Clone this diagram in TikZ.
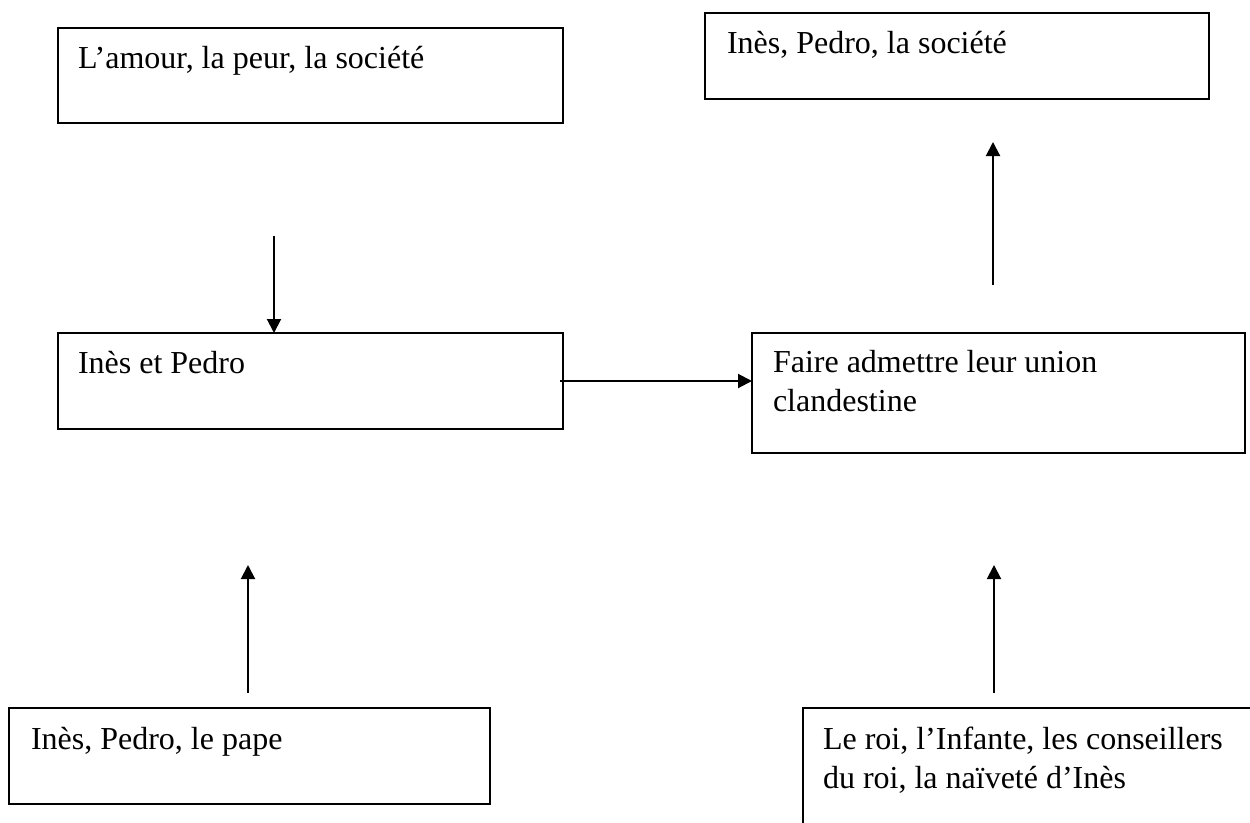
\documentclass[tikz,border=0pt]{standalone}
\usepackage{fontspec}
\setmainfont{Liberation Serif}
\usetikzlibrary{arrows.meta}
\begin{document}
\begin{tikzpicture}[x=1pt,y=-1pt,
  box/.style={draw=black, line width=2.2pt, rectangle, inner sep=0pt, outer sep=0pt, anchor=north west},
  lbl/.style={anchor=base west, inner sep=0pt, outer sep=0pt, font=\fontsize{32}{38}\selectfont},
  arr/.style={line width=2pt, -{Triangle[length=14pt,width=14pt]}}]
\useasboundingbox (0,0) rectangle (1250,822);
\clip (0,0) rectangle (1250,822);
% boxes
\node[box, minimum width=505pt, minimum height=95pt] (b1) at (58,28) {};
\node[box, minimum width=504pt, minimum height=86pt] (b2) at (705,13) {};
\node[box, minimum width=505pt, minimum height=96pt] (b3) at (58,333) {};
\node[box, minimum width=493pt, minimum height=120pt] (b4) at (752,333) {};
\node[box, minimum width=481pt, minimum height=96pt] (b5) at (9,708) {};
\node[box, minimum width=480pt, minimum height=140pt] (b6) at (803,708) {};
% texts
\node[lbl] (t1) at (78,68) {L’amour, la peur, la société};
\node[lbl] (t2) at (727,53) {Inès, Pedro, la société};
\node[lbl] (t3) at (78,373) {Inès et Pedro};
\node[lbl] (t4a) at (773,372) {Faire admettre leur union};
\node[lbl] (t4b) at (773,411) {clandestine};
\node[lbl] (t5) at (31,749) {Inès, Pedro, le pape};
\node[lbl] (t6a) at (823,749) {Le roi, l’Infante, les conseillers};
\node[lbl] (t6b) at (823,788) {du roi, la naïveté d’Inès};
% arrows
\coordinate (a1) at (274,236);
\draw[arr] (a1) -- (a1 |- b3.north);
\coordinate (a2) at (993,285);
\coordinate (a2e) at (993,142);
\draw[arr] (a2) -- (a2e);
\coordinate (a3) at (560,381);
\draw[arr] (a3) -- (a3 -| b4.west);
\coordinate (a4) at (248,693);
\coordinate (a4e) at (248,565);
\draw[arr] (a4) -- (a4e);
\coordinate (a5) at (994,693);
\coordinate (a5e) at (994,565);
\draw[arr] (a5) -- (a5e);
\end{tikzpicture}
\end{document}
